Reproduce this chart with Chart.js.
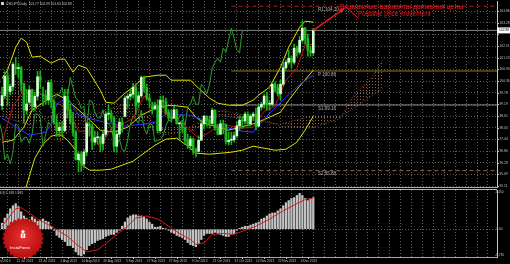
<!DOCTYPE html>
<html>
<head>
<meta charset="UTF-8">
<title>USDJPY Daily</title>
<script src="https://cdn.jsdelivr.net/npm/chart.js"></script>
<style>
    body {
        margin: 0;
        background: #000;
        width: 510px;
        height: 264px;
        overflow: hidden;
    }
    canvas { display: block; }
</style>
</head>
<body>
<canvas id="mainChart" width="510" height="189"></canvas>
<canvas id="macdChart" width="510" height="75"></canvas>
<script>
    // ---- data ----
    const dateLabels = ['1 Jul 2013', '11 Jul 2013', '23 Jul 2013', '2 Aug 2013', '14 Aug 2013', '26 Aug 2013',
        '5 Sep 2013', '17 Sep 2013', '27 Sep 2013', '9 Oct 2013', '21 Oct 2013', '31 Oct 2013',
        '12 Nov 2013', '22 Nov 2013', '4 Dec 2013'];
    const labelStep = 8;

    const opens = [
        99.13, 99.63, 100.60, 99.84, 100.09, 101.05, 100.98, 101.03, 100.22, 98.90,
        99.30, 99.91, 99.08, 99.60, 100.57, 99.70, 99.62, 99.41, 100.28, 99.30,
        98.27, 97.88, 98.04, 97.88, 99.59, 98.93, 98.30, 97.79, 96.43, 96.70,
        96.21, 96.81, 98.22, 98.10, 97.30, 97.52, 97.55, 97.24, 97.70, 98.70,
        98.72, 98.50, 97.10, 97.70, 98.30, 98.60, 99.50, 99.60, 99.70, 100.05,
        99.30, 99.62, 100.54, 100.02, 99.50, 99.10, 98.98, 99.12, 97.88, 99.40,
        99.32, 98.80, 98.52, 98.50, 98.92, 98.22, 98.24, 98.02, 97.40, 97.12,
        97.46, 96.92, 96.84, 97.40, 98.22, 98.60, 98.42, 98.24, 98.90, 98.02,
        97.70, 98.22, 98.18, 97.32, 97.40, 97.42, 97.62, 98.12, 98.40, 98.36,
        98.70, 98.22, 98.60, 98.70, 98.10, 99.06, 99.20, 99.60, 99.20, 99.20,
        100.20, 100.02, 99.72, 100.20, 101.02, 101.30, 101.50, 101.30, 102.00, 101.80,
        102.40, 103.00, 102.50, 101.90, 101.77];
    const highs = [
        100.06, 100.82, 100.86, 100.20, 101.29, 101.54, 101.24, 101.08, 100.25, 99.93,
        100.11, 99.95, 99.80, 100.84, 100.86, 100.06, 99.91, 100.40, 100.42, 99.40,
        98.63, 98.30, 98.33, 99.94, 99.95, 99.20, 98.80, 97.90, 96.80, 96.83,
        96.93, 98.30, 98.32, 98.20, 97.84, 97.82, 97.60, 97.91, 98.82, 99.16,
        98.90, 98.60, 97.80, 98.50, 98.52, 99.62, 99.72, 99.92, 100.24, 100.23,
        99.80, 100.62, 100.60, 100.20, 99.72, 99.30, 99.30, 99.42, 99.60, 99.62,
        99.50, 98.92, 98.90, 99.10, 98.96, 98.30, 98.40, 98.05, 97.70, 97.60,
        97.50, 97.02, 97.62, 98.40, 98.66, 98.62, 98.60, 99.00, 98.92, 98.20,
        98.40, 98.40, 98.22, 97.80, 97.80, 97.80, 98.32, 98.62, 98.60, 98.80,
        98.82, 98.70, 98.80, 99.00, 99.20, 99.30, 99.70, 99.80, 99.40, 100.30,
        100.30, 100.20, 100.40, 101.30, 101.40, 101.90, 101.60, 102.20, 102.10, 102.60,
        103.38, 103.04, 102.70, 102.10, 102.99];
    const lows = [
        98.92, 99.48, 99.15, 99.66, 99.88, 100.68, 100.51, 99.85, 98.27, 98.70,
        99.18, 98.91, 98.88, 99.40, 99.98, 99.12, 99.20, 99.19, 99.02, 98.20,
        97.59, 97.58, 97.62, 97.82, 98.51, 98.20, 97.62, 96.40, 95.81, 95.84,
        96.01, 96.62, 97.60, 96.93, 97.18, 97.20, 96.82, 96.90, 97.60, 98.41,
        98.30, 96.82, 96.80, 97.52, 97.80, 98.55, 99.00, 99.40, 99.50, 98.70,
        99.02, 99.52, 99.80, 99.40, 99.02, 98.70, 98.90, 97.76, 97.80, 99.00,
        98.70, 98.40, 98.30, 98.48, 98.20, 97.40, 97.80, 97.20, 96.98, 96.92,
        96.70, 96.56, 96.80, 97.38, 97.96, 98.10, 98.00, 98.20, 97.90, 97.66,
        97.68, 97.72, 97.20, 97.16, 97.18, 97.30, 97.52, 97.90, 98.00, 98.20,
        98.10, 98.10, 98.40, 97.92, 98.08, 98.90, 99.00, 98.92, 98.90, 99.10,
        99.80, 99.60, 99.40, 100.10, 100.90, 101.20, 101.00, 101.20, 101.60, 101.70,
        102.30, 102.20, 101.60, 101.60, 101.63];
    const closes = [
        99.63, 100.60, 99.84, 100.09, 101.19, 100.98, 101.03, 100.22, 98.90, 99.21,
        99.91, 99.08, 99.60, 100.57, 100.40, 99.62, 99.41, 100.28, 99.30, 98.27,
        97.88, 98.04, 97.88, 99.59, 98.93, 98.30, 97.79, 96.43, 96.70, 96.21,
        96.81, 98.22, 98.10, 97.30, 97.52, 97.55, 97.24, 97.70, 98.70, 98.72,
        98.50, 97.10, 97.70, 98.30, 98.14, 99.50, 99.60, 99.70, 100.05, 99.12,
        99.62, 100.54, 100.02, 99.50, 99.38, 98.98, 99.12, 97.88, 99.40, 99.32,
        98.80, 98.52, 98.50, 98.92, 98.22, 98.24, 98.02, 97.40, 97.12, 97.46,
        96.92, 96.84, 97.40, 98.22, 98.60, 98.42, 98.24, 98.90, 98.02, 97.70,
        98.22, 98.18, 97.32, 97.40, 97.42, 97.62, 98.12, 98.40, 98.36, 98.70,
        98.22, 98.60, 98.70, 98.10, 99.06, 99.20, 99.60, 99.20, 99.20, 100.20,
        100.02, 99.72, 100.20, 101.02, 101.30, 101.50, 101.30, 102.00, 101.80, 102.40,
        103.00, 102.50, 101.90, 101.77, 102.89];

    const yTicks = [103.86, 103.28, 102.69, 102.11, 101.53, 100.94, 100.36, 99.78,
        99.19, 98.61, 98.03, 97.44, 96.86, 96.28, 95.69, 95.11];

    // [bar index, price]
    const bbUpper = [[0, 100.5], [2, 100.9], [5, 102.05], [7, 102.5], [9, 102.3], [11, 101.55], [14, 101.6],
        [18, 101.25], [21, 101.45], [23, 101.45], [26, 100.8], [28, 101.15], [31, 101.0], [36, 99.9],
        [38, 99.3], [41, 99.25], [45, 99.75], [48, 100.05], [52, 100.55], [57, 100.65], [60, 100.65],
        [62, 100.4], [69, 100.4], [72, 100.0], [76, 99.5], [79, 99.25], [83, 99.15], [88, 99.15],
        [92, 99.4], [94, 99.65], [98, 100.05], [102, 101.05], [105, 102.05], [109, 103.05],
        [111, 103.35], [114, 103.3]];
    const bbMiddle = [[0, 97.3], [4, 97.4], [8, 98.05], [11, 98.9], [18, 99.55], [20, 99.7], [24, 99.4],
        [31, 98.55], [36, 97.9], [41, 97.8], [46, 98.05], [51, 98.65], [57, 99.05], [62, 99.15],
        [68, 99.05], [71, 98.55], [74, 98.25], [83, 97.9], [93, 98.25], [102, 98.8], [105, 99.4],
        [109, 100.1], [114, 100.9]];
    const bbLower = [[0, 93.7], [4, 94.1], [8, 94.7], [10, 95.6], [12, 96.5], [15, 97.2], [18, 97.6],
        [21, 97.7], [24, 97.4], [27, 96.9], [29, 96.2], [32, 95.9], [36, 95.9], [40, 95.95], [44, 96.15],
        [48, 96.35], [52, 96.75], [56, 97.15], [60, 97.45], [64, 97.5], [68, 97.1], [71, 96.75],
        [76, 96.7], [80, 96.75], [84, 96.8], [88, 96.9], [92, 97.1], [96, 97.0], [100, 96.9],
        [104, 96.95], [108, 97.3], [111, 97.9], [114, 98.6]];

    const tenkan = [[0, 97.3], [4, 99.1], [8, 99.9], [12, 99.9], [16, 99.6], [20, 99.25], [24, 99.0],
        [28, 97.85], [32, 97.85], [36, 97.05], [40, 98.0], [44, 98.2], [48, 98.5], [52, 99.6], [56, 99.2],
        [60, 98.7], [64, 98.5], [68, 98.0], [72, 97.5], [76, 97.8], [80, 98.2], [84, 98.1], [88, 98.0],
        [92, 98.05], [96, 98.85], [100, 99.1], [104, 100.4], [108, 101.0], [111, 102.15], [114, 102.2]];
    const kijun = [[0, 98.5], [10, 97.65], [16, 97.8], [18, 98.2], [20, 99.2], [24, 99.55], [28, 98.65],
        [33, 98.45], [44, 98.1], [52, 98.2], [56, 98.3], [60, 98.7], [69, 98.65], [80, 98.1], [88, 97.85],
        [92, 97.8], [98, 98.75], [104, 99.55], [110, 100.3], [114, 100.65]];
    const spanA = [[0, 101.0], [10, 99.7], [21, 97.3], [25, 97.95], [36, 98.8], [47, 99.3], [58, 98.0],
        [69, 98.05], [80, 98.9], [91, 98.6], [102, 98.1], [113, 98.0], [124, 98.5], [129, 99.7],
        [135, 100.45], [140, 101.5]];
    const spanB = [[0, 98.6], [10, 98.15], [21, 98.75], [25, 98.75], [36, 98.75], [47, 98.75], [58, 97.65],
        [69, 97.85], [80, 98.65], [91, 98.4], [102, 98.2], [113, 98.6], [124, 98.6], [129, 99.0],
        [135, 99.6], [140, 100.0]];
    const chikouShift = 26;

    const pivotNames = ['R1', 'P', 'S1', 'S2'];
    const pivotValues = [104.10, 100.86, 99.16, 95.88];
    const pivotStart = 84;

    const forecast = [[114, 102.89], [125, 103.95]];
    const callout = [[126, 104.06], [130.5, 103.5]];

    const macdHist = [
        0.38, 0.70, 0.96, 1.28, 1.47, 1.60, 1.41, 1.09, 0.83, 0.70,
        0.58, 0.77, 0.64, 0.51, 0.58, 0.64, 0.51, 0.45, 0.19, -0.06,
        -0.38, -0.51, -0.64, -0.77, -1.02, -1.02, -1.15, -1.41, -1.60, -1.66,
        -1.54, -1.28, -1.02, -0.90, -0.83, -0.70, -0.64, -0.58, -0.45, -0.38,
        -0.32, -0.32, -0.19, -0.06, 0.19, 0.45, 0.70, 0.83, 0.90, 0.90,
        0.83, 0.83, 0.77, 0.64, 0.45, 0.32, 0.13, 0.13, 0.19, 0.06,
        0.02, -0.06, -0.19, -0.26, -0.38, -0.45, -0.51, -0.64, -0.83, -0.96,
        -1.02, -1.09, -0.90, -0.64, -0.38, -0.26, -0.26, -0.26, -0.19, -0.26,
        -0.32, -0.38, -0.45, -0.45, -0.32, -0.26, -0.06, 0.06, 0.13, 0.19,
        0.19, 0.26, 0.32, 0.38, 0.45, 0.64, 0.70, 0.83, 0.96, 1.02,
        1.02, 1.15, 1.28, 1.47, 1.66, 1.79, 1.92, 1.98, 2.11, 2.24,
        2.11, 1.92, 1.79, 1.92, 1.98];
    const macdSignal = [[0, 0.19], [2, 0.64], [5, 1.28], [7, 1.34], [10, 1.02], [13, 0.64], [18, 0.19],
        [21, -0.13], [24, -0.45], [27, -0.90], [31, -1.41], [35, -1.28], [38, -0.90], [42, -0.32],
        [46, 0.19], [49, 0.70], [53, 0.83], [57, 0.64], [60, 0.32], [62, 0.06], [65, -0.26], [69, -0.64],
        [71, -0.95], [74, -0.85], [77, -0.32], [81, -0.26], [85, -0.32], [88, -0.13], [93, 0.19],
        [98, 0.64], [103, 1.15], [108, 1.60], [111, 1.85], [114, 1.95]];
    const macdTicks = [2.45, 0, -1.73];
    const macdTickLabels = ['2.450', '0.00', '-1.730'];

    // ---- drawing ----
    const FONT = '"Liberation Sans", "DejaVu Sans", sans-serif';
    const xMin = -0.75, xMax = 181.3;
    const gridColor = '#5c5c5c';
    const axisColor = '#c0c0c0';
    const lastClose = closes[closes.length - 1];

    const toXY = (pairs) => pairs.map(p => ({ x: p[0], y: p[1] }));
    const isBull = (i) => closes[i] >= opens[i];

    function lineSet(data, color, extra) {
        return Object.assign({
            type: 'line', data: data, borderColor: color, borderWidth: 1,
            pointRadius: 0, fill: false, tension: 0
        }, extra || {});
    }

    function verticalGrid(scale) {
        const t = [];
        for (let i = 0; i <= 180; i += 4) t.push({ value: i });
        scale.ticks = t;
    }

    function xScaleOpts() {
        return {
            type: 'linear', min: xMin, max: xMax, offset: false,
            afterBuildTicks: verticalGrid,
            afterFit: s => { s.height = 0; },
            ticks: { display: false },
            grid: { color: gridColor, drawTicks: false },
            border: { display: true, color: '#a8a8a8', width: 1, dash: [1, 2] }
        };
    }

    const mainCanvas = document.getElementById('mainChart');
    // dotted hatch like the terminal's cloud
    const cloudPattern = (() => {
        const c = document.createElement('canvas');
        c.width = 3; c.height = 3;
        const g = c.getContext('2d');
        g.fillStyle = '#9c5c34';
        g.fillRect(0, 0, 1, 1);
        return mainCanvas.getContext('2d').createPattern(c, 'repeat');
    })();

    const mainOverlay = {
        id: 'mainOverlay',
        afterDraw(chart) {
            const { ctx, scales: { x, y } } = chart;
            ctx.save();
            // symbol header
            ctx.fillStyle = '#d0d0d0';
            ctx.fillRect(1, 2, 3, 3);
            ctx.font = '3.3px ' + FONT;
            ctx.textBaseline = 'middle';
            ctx.fillText('USDJPY,Daily  101.77 102.99 101.63 102.89', 6, 4);

            // right axis labels
            const boxY = y.getPixelForValue(lastClose);
            ctx.fillStyle = axisColor;
            yTicks.forEach(v => {
                const py = y.getPixelForValue(v);
                ctx.fillRect(497, Math.round(py), 2, 1);
                if (Math.abs(py - boxY) < 5) return;
                ctx.fillText(v.toFixed(2), 499.5, py);
            });
            ctx.fillStyle = '#ffffff';
            ctx.fillRect(497, boxY - 3, 13, 6);
            ctx.fillStyle = '#000000';
            ctx.fillText(lastClose.toFixed(2), 499, boxY);

            // pivot labels
            ctx.font = '4.5px ' + FONT;
            ctx.textBaseline = 'alphabetic';
            ctx.fillStyle = '#b4b4b4';
            pivotNames.forEach((n, k) => {
                const py = y.getPixelForValue(pivotValues[k]);
                ctx.fillText(n + ' ' + pivotValues[k].toFixed(2), 318, py + 4.5);
            });

            // forecast arrowhead
            const p0 = { x: x.getPixelForValue(forecast[0][0]), y: y.getPixelForValue(forecast[0][1]) };
            const p1 = { x: x.getPixelForValue(forecast[1][0]), y: y.getPixelForValue(forecast[1][1]) };
            const ang = Math.atan2(p1.y - p0.y, p1.x - p0.x);
            ctx.fillStyle = '#ff1a1a';
            ctx.beginPath();
            ctx.moveTo(p1.x + 2 * Math.cos(ang), p1.y + 2 * Math.sin(ang));
            ctx.lineTo(p1.x - 4 * Math.cos(ang) + 2.2 * Math.sin(ang), p1.y - 4 * Math.sin(ang) - 2.2 * Math.cos(ang));
            ctx.lineTo(p1.x - 4 * Math.cos(ang) - 2.2 * Math.sin(ang), p1.y - 4 * Math.sin(ang) + 2.2 * Math.cos(ang));
            ctx.closePath();
            ctx.fill();

            // red notes
            ctx.font = '7px ' + FONT;
            ctx.fillText('Возможные варианты движения цены', 340, 8.5);
            ctx.font = '6.5px ' + FONT;
            ctx.fillText('Possible price movement', 358, 15.5);
            ctx.restore();
        }
    };

    new Chart(mainCanvas, {
        type: 'bar',
        data: {
            datasets: [
                lineSet(toXY(forecast), '#ff1a1a', { borderWidth: 1.3 }),
                lineSet(toXY(callout), '#ff1a1a'),
                {
                    type: 'bar',
                    data: opens.map((o, i) => ({ x: i, y: [o, closes[i]] })),
                    backgroundColor: c => isBull(c.dataIndex) ? '#d6ffd6' : '#22b822',
                    barThickness: 2, grouped: false, minBarLength: 1
                },
                {
                    type: 'bar',
                    data: lows.map((l, i) => ({ x: i, y: [l, highs[i]] })),
                    backgroundColor: '#18b018',
                    barThickness: 1, grouped: false
                },
                lineSet(toXY(tenkan), '#d01010'),
                lineSet(toXY(kijun), '#2a3cff'),
                lineSet(closes.map((c, i) => ({ x: i - chikouShift, y: c })), '#2ca02c'),
                lineSet(toXY(bbUpper), '#e2e200'),
                lineSet(toXY(bbMiddle), '#e2e200'),
                lineSet(toXY(bbLower), '#e2e200'),
                lineSet([{ x: pivotStart, y: pivotValues[0] }, { x: xMax, y: pivotValues[0] }], '#b01c1c', { borderDash: [4, 3] }),
                lineSet([{ x: pivotStart, y: pivotValues[1] }, { x: xMax, y: pivotValues[1] }], '#8c7a10'),
                lineSet([{ x: pivotStart, y: pivotValues[2] }, { x: xMax, y: pivotValues[2] }], '#8e8a8a'),
                lineSet([{ x: pivotStart, y: pivotValues[3] }, { x: xMax, y: pivotValues[3] }], '#8a6448', { borderDash: [4, 3] }),
                lineSet([{ x: xMin, y: lastClose }, { x: xMax, y: lastClose }], '#7e867e'),
                lineSet(toXY(spanA), 'rgba(170,110,70,0.75)', { borderDash: [1, 2], fill: '+1', backgroundColor: cloudPattern }),
                lineSet(toXY(spanB), 'rgba(170,140,170,0.6)', { borderDash: [1, 2] })
            ]
        },
        options: {
            responsive: false,
            animation: false,
            devicePixelRatio: 1,
            events: [],
            layout: { padding: { top: 1, bottom: 2, left: 0, right: 0 } },
            plugins: { legend: { display: false }, tooltip: { enabled: false } },
            scales: {
                x: xScaleOpts(),
                y: {
                    type: 'linear', position: 'right', min: 95.06, max: 104.36,
                    afterBuildTicks: s => { s.ticks = yTicks.map(v => ({ value: v })); },
                    afterFit: s => { s.width = 13; },
                    ticks: { display: false },
                    grid: { color: gridColor, drawTicks: false },
                    border: { display: true, color: '#c8c8c8', width: 1, dash: [1, 2] }
                }
            }
        },
        plugins: [mainOverlay]
    });

    function drawLogo(ctx, cx, cy, r) {
        const spikes = 28;
        ctx.beginPath();
        for (let k = 0; k < spikes * 2; k++) {
            const a = Math.PI * k / spikes;
            const rad = k % 2 === 0 ? r : r * 0.9;
            ctx.lineTo(cx + rad * Math.cos(a), cy + rad * Math.sin(a));
        }
        ctx.closePath();
        const g = ctx.createRadialGradient(cx, cy - 3, 2, cx, cy, r);
        g.addColorStop(0, '#e43030');
        g.addColorStop(1, '#b80c0c');
        ctx.fillStyle = g;
        ctx.fill();
        // little white emblem
        ctx.fillStyle = '#ffffff';
        ctx.beginPath();
        ctx.arc(cx, cy - 7, 1.6, 0, Math.PI * 2);
        ctx.fill();
        ctx.fillRect(cx - 2.2, cy - 5, 4.4, 4.5);
        ctx.fillStyle = '#c81818';
        ctx.fillRect(cx - 0.4, cy - 4.5, 0.8, 3.5);
        ctx.fillStyle = '#ffffff';
        ctx.font = '4.2px ' + FONT;
        ctx.textAlign = 'center';
        ctx.textBaseline = 'middle';
        ctx.fillText('InstaForex', cx - 3, cy + 9);
    }

    const macdOverlay = {
        id: 'macdOverlay',
        afterDraw(chart) {
            const { ctx, chartArea, scales: { x, y } } = chart;
            ctx.save();
            ctx.fillStyle = '#b4b4b4';
            ctx.fillRect(0, 0, 497, 1);

            drawLogo(ctx, 23, 49.5, 21);

            ctx.fillStyle = '#c8c8c8';
            ctx.font = '3.2px ' + FONT;
            ctx.textBaseline = 'middle';
            ctx.fillText('MACD(12,26,9) 1.918 1.985', 3, 4.5);

            ctx.fillStyle = axisColor;
            macdTicks.forEach((v, k) => {
                let py = y.getPixelForValue(v);
                py = Math.min(Math.max(py, chartArea.top + 2.5), chartArea.bottom - 2);
                ctx.fillText(macdTickLabels[k], 499.5, py);
            });

            dateLabels.forEach((t, k) => {
                const px = x.getPixelForValue(k * labelStep);
                ctx.fillRect(Math.round(px), chartArea.bottom, 1, 2);
                ctx.fillText(t, px + 1, chartArea.bottom + 4.5);
            });
            ctx.restore();
        }
    };

    new Chart(document.getElementById('macdChart'), {
        type: 'bar',
        data: {
            datasets: [
                lineSet(toXY(macdSignal), '#d81818'),
                {
                    type: 'bar',
                    data: macdHist.map((v, i) => ({ x: i, y: v })),
                    backgroundColor: '#c4c4c4',
                    barThickness: 1.6, grouped: false
                }
            ]
        },
        options: {
            responsive: false,
            animation: false,
            devicePixelRatio: 1,
            events: [],
            layout: { padding: { top: 1, bottom: 7, left: 0, right: 0 } },
            plugins: { legend: { display: false }, tooltip: { enabled: false } },
            scales: {
                x: xScaleOpts(),
                y: {
                    type: 'linear', position: 'right', min: -1.73, max: 2.45,
                    afterBuildTicks: s => { s.ticks = macdTicks.map(v => ({ value: v })); },
                    afterFit: s => { s.width = 13; },
                    ticks: { display: false },
                    grid: {
                        drawTicks: false,
                        color: c => (c.tick && c.tick.value === 0) ? gridColor : 'rgba(0,0,0,0)'
                    },
                    border: { display: true, color: '#c8c8c8', width: 1, dash: [1, 2] }
                }
            }
        },
        plugins: [macdOverlay]
    });
</script>
</body>
</html>
